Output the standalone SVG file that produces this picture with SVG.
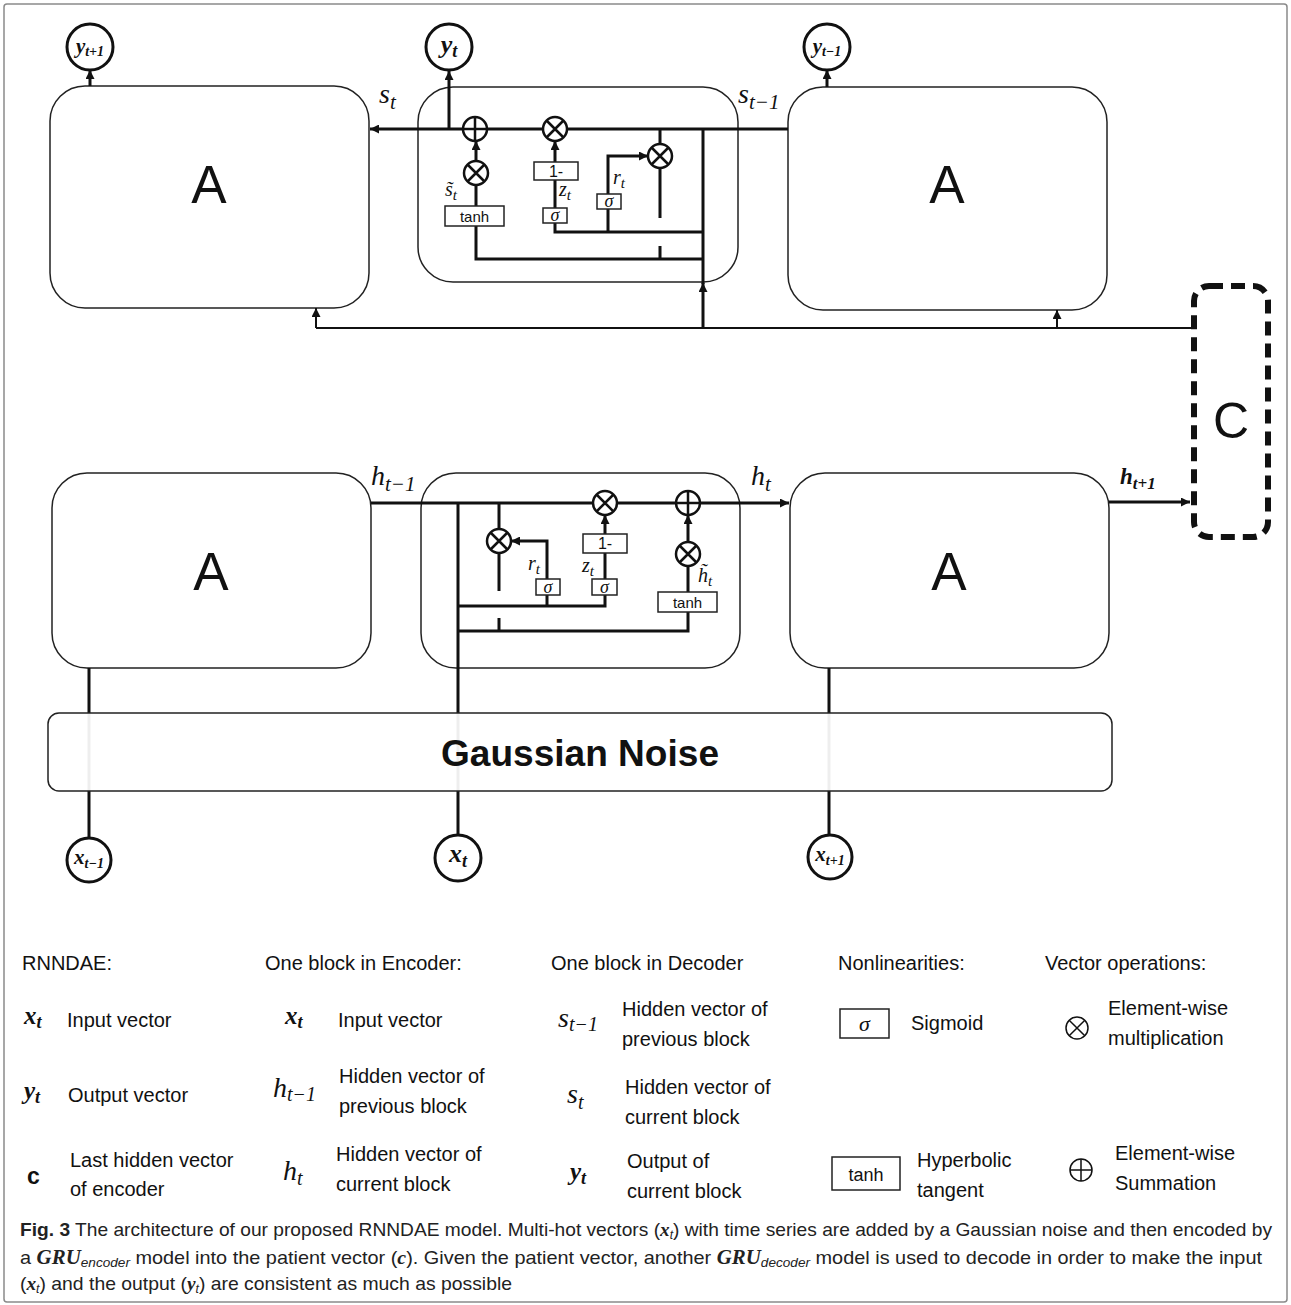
<svg xmlns="http://www.w3.org/2000/svg" xmlns:xlink="http://www.w3.org/1999/xlink" width="1291" height="1305" viewBox="0 0 1291 1305">
<style>
.frame{fill:#fff;stroke:#8a8a8a;stroke-width:1.5}
.box{fill:#fff;stroke:#222;stroke-width:1.5}
.ln{stroke:#111;stroke-width:3;fill:none}
.thin{stroke:#111;stroke-width:2;fill:none}
.op{fill:#fff;stroke:#111;stroke-width:2.5}
.gate{fill:#fff;stroke:#222;stroke-width:1.5}
.circ{fill:#fff;stroke:#111;stroke-width:3}
.big{font-family:"Liberation Sans",Arial,sans-serif;font-size:53px;fill:#111;text-anchor:middle}
.m{font-family:"Liberation Serif","Times New Roman",serif;font-style:italic;fill:#111}
.mb{font-family:"Liberation Serif","Times New Roman",serif;font-style:italic;font-weight:bold;fill:#111}
.s{font-family:"Liberation Sans",Arial,sans-serif;fill:#111}
.lg{font-family:"Liberation Sans",Arial,sans-serif;font-size:20px;fill:#111}
.cap{font-family:"Liberation Sans",Arial,sans-serif;font-size:19px;fill:#222}
</style>
<defs>
<marker id="ah" viewBox="0 0 10 10" refX="10" refY="5" markerWidth="9" markerHeight="9" markerUnits="userSpaceOnUse" orient="auto"><path d="M0,0L10,5L0,10z" fill="#111"/></marker>
<g id="mul"><circle r="12" class="op"/><path d="M-8.5,-8.5L8.5,8.5M8.5,-8.5L-8.5,8.5" stroke="#111" stroke-width="2.5"/></g>
<g id="add"><circle r="12" class="op"/><path d="M-12,0H12M0,-12V12" stroke="#111" stroke-width="2.5"/></g>
</defs>
<rect class="frame" x="4" y="4" width="1283" height="1298" rx="3"/>

<!-- top row boxes -->
<g id="dec-left"><rect class="box" x="50" y="86" width="319" height="222" rx="35"/><text class="big" x="209" y="203">A</text></g>
<g id="dec-mid"><rect class="box" x="418" y="87" width="320" height="195" rx="35"/></g>
<g id="dec-right"><rect class="box" x="788" y="87" width="319" height="223" rx="35"/><text class="big" x="947" y="203">A</text></g>

<!-- bottom row boxes -->
<g id="enc-left"><rect class="box" x="52" y="473" width="319" height="195" rx="35"/><text class="big" x="211" y="590">A</text></g>
<g id="enc-mid"><rect class="box" x="421" y="473" width="319" height="195" rx="35"/></g>
<g id="enc-right"><rect class="box" x="790" y="473" width="319" height="195" rx="35"/><text class="big" x="949" y="590">A</text></g>

<!-- connectors -->
<g id="connectors">
<path class="ln" d="M788,129H370" marker-end="url(#ah)"/>
<path class="ln" d="M449,129V71" marker-end="url(#ah)"/>
<path class="ln" d="M660,129V144M660,168V218M660,246V260"/>
<path class="ln" d="M703,129V284"/>
<path class="ln" d="M703,328V283" marker-end="url(#ah)"/>
<path class="ln" d="M476,161V141" marker-end="url(#ah)"/>
<path class="ln" d="M476,206V185M476,226V259H703"/>
<path class="ln" d="M555,162V141" marker-end="url(#ah)"/>
<path class="ln" d="M555,180V208M555,223V232H703"/>
<path class="ln" d="M608,232V209M608,194V156H648" marker-end="url(#ah)"/>
<path class="ln" d="M90,86V70" marker-end="url(#ah)"/>
<path class="ln" d="M827,87V70" marker-end="url(#ah)"/>
<path class="thin" d="M316,328H1192"/>
<path class="thin" d="M316,328V308" marker-end="url(#ah)"/>
<path class="thin" d="M1057,328V310" marker-end="url(#ah)"/>
<path class="ln" d="M371,503H789" marker-end="url(#ah)"/>
<path class="ln" d="M458,503V836"/>
<path class="ln" d="M499,503V529M499,553V591M499,618V632"/>
<path class="ln" d="M458,606H605V595M547,606V595"/>
<path class="ln" d="M547,579V541H511" marker-end="url(#ah)"/>
<path class="ln" d="M605,579V553"/>
<path class="ln" d="M605,534V515" marker-end="url(#ah)"/>
<path class="ln" d="M458,631H688V612M688,592V566"/>
<path class="ln" d="M688,542V515" marker-end="url(#ah)"/>
<path class="ln" d="M1109,502H1190" marker-end="url(#ah)"/>
<path class="ln" d="M89,668V838M829,668V835"/>
</g>

<g id="dec-ops">
<use xlink:href="#add" x="475" y="129"/>
<use xlink:href="#mul" x="555" y="129"/>
<use xlink:href="#mul" x="660" y="156"/>
<use xlink:href="#mul" x="476" y="173"/>
<rect class="gate" x="445" y="206" width="59" height="20"/><text class="s" x="474.5" y="221.5" font-size="15" text-anchor="middle">tanh</text>
<rect class="gate" x="534" y="162" width="44" height="18"/><text class="s" x="556" y="177" font-size="16" text-anchor="middle">1-</text>
<rect class="gate" x="543" y="208" width="24" height="15"/><text class="m" x="555" y="221" font-size="18" text-anchor="middle">σ</text>
<rect class="gate" x="597" y="194" width="24" height="15"/><text class="m" x="609" y="207" font-size="18" text-anchor="middle">σ</text>
<text class="m" x="445" y="196" font-size="20">s̃<tspan font-size="15" dy="4">t</tspan></text>
<text class="m" x="559" y="196" font-size="20">z<tspan font-size="15" dy="4">t</tspan></text>
<text class="m" x="613" y="184" font-size="20">r<tspan font-size="15" dy="4">t</tspan></text>
</g>

<g id="enc-ops">
<use xlink:href="#mul" x="499" y="541"/>
<use xlink:href="#mul" x="605" y="503"/>
<use xlink:href="#add" x="688" y="503"/>
<use xlink:href="#mul" x="688" y="554"/>
<rect class="gate" x="536" y="579" width="24" height="16"/><text class="m" x="548" y="593" font-size="18" text-anchor="middle">σ</text>
<rect class="gate" x="592" y="579" width="25" height="16"/><text class="m" x="604.5" y="593" font-size="18" text-anchor="middle">σ</text>
<rect class="gate" x="583" y="534" width="44" height="19"/><text class="s" x="605" y="549" font-size="16" text-anchor="middle">1-</text>
<rect class="gate" x="658" y="592" width="59" height="20"/><text class="s" x="687.5" y="607.5" font-size="15" text-anchor="middle">tanh</text>
<text class="m" x="528" y="570" font-size="20">r<tspan font-size="15" dy="4">t</tspan></text>
<text class="m" x="582" y="572" font-size="20">z<tspan font-size="15" dy="4">t</tspan></text>
<text class="m" x="698" y="582" font-size="20">h̃<tspan font-size="15" dy="4">t</tspan></text>
</g>

<g id="context">
<rect x="1194" y="286" width="74" height="251" rx="15" fill="none" stroke="#111" stroke-width="6" stroke-dasharray="14 8"/>
<text class="s" x="1231" y="438" font-size="50" text-anchor="middle">C</text>
</g>

<g id="noise">
<rect x="48" y="713" width="1064" height="78" rx="11" fill="#fff" fill-opacity="0.93" stroke="#222" stroke-width="1.5"/>
<text class="s" x="580" y="766" font-size="37" font-weight="bold" text-anchor="middle" textLength="278" lengthAdjust="spacingAndGlyphs">Gaussian Noise</text>
</g>

<g id="y-next"><circle class="circ" cx="90" cy="47" r="23"/><text class="mb" x="90" y="53" font-size="21" text-anchor="middle">y<tspan font-size="14" dy="3">t+1</tspan></text></g>
<g id="y-cur"><circle class="circ" cx="449" cy="47" r="23"/><text class="mb" x="449" y="53" font-size="26" text-anchor="middle">y<tspan font-size="18" dy="4">t</tspan></text></g>
<g id="y-prev"><circle class="circ" cx="827" cy="47" r="23"/><text class="mb" x="827" y="53" font-size="21" text-anchor="middle">y<tspan font-size="14" dy="3">t−1</tspan></text></g>

<g id="x-prev"><circle class="circ" cx="89" cy="860" r="22"/><text class="mb" x="89" y="864" font-size="21" text-anchor="middle">x<tspan font-size="14" dy="4">t−1</tspan></text></g>
<g id="x-cur"><circle class="circ" cx="458" cy="858" r="23"/><text class="mb" x="458" y="862" font-size="26" text-anchor="middle">x<tspan font-size="18" dy="5">t</tspan></text></g>
<g id="x-next"><circle class="circ" cx="830" cy="857" r="22"/><text class="mb" x="830" y="861" font-size="21" text-anchor="middle">x<tspan font-size="14" dy="4">t+1</tspan></text></g>

<g id="labels">
<text class="m" x="379" y="103" font-size="28">s<tspan font-size="21" dy="6">t</tspan></text>
<text class="m" x="738" y="103" font-size="28">s<tspan font-size="21" dy="6">t−1</tspan></text>
<text class="m" x="371" y="485" font-size="28">h<tspan font-size="21" dy="6">t−1</tspan></text>
<text class="m" x="751" y="485" font-size="28">h<tspan font-size="21" dy="6">t</tspan></text>
<text class="mb" x="1120" y="484" font-size="23">h<tspan font-size="17" dy="5">t+1</tspan></text>
</g>

<g id="legend">
<text class="lg" x="22" y="970">RNNDAE:</text>
<text class="lg" x="265" y="970">One block in Encoder:</text>
<text class="lg" x="551" y="970">One block in Decoder</text>
<text class="lg" x="838" y="970">Nonlinearities:</text>
<text class="lg" x="1045" y="970">Vector operations:</text>

<text class="mb" x="24" y="1024" font-size="25">x<tspan font-size="18" dy="4">t</tspan></text>
<text class="lg" x="67" y="1027">Input vector</text>
<text class="mb" x="24" y="1099" font-size="25">y<tspan font-size="18" dy="4">t</tspan></text>
<text class="lg" x="68" y="1102">Output vector</text>
<text class="s" x="27" y="1184" font-size="23" font-weight="bold">c</text>
<text class="lg" x="70" y="1167">Last hidden vector</text>
<text class="lg" x="70" y="1196">of encoder</text>

<text class="mb" x="285" y="1024" font-size="25">x<tspan font-size="18" dy="4">t</tspan></text>
<text class="lg" x="338" y="1027">Input vector</text>
<text class="m" x="273" y="1097" font-size="28">h<tspan font-size="20" dy="4">t−1</tspan></text>
<text class="lg" x="339" y="1083">Hidden vector of</text>
<text class="lg" x="339" y="1113">previous block</text>
<text class="m" x="283" y="1180" font-size="28">h<tspan font-size="20" dy="5">t</tspan></text>
<text class="lg" x="336" y="1161">Hidden vector of</text>
<text class="lg" x="336" y="1191">current block</text>

<text class="m" x="558" y="1027" font-size="28">s<tspan font-size="20" dy="4">t−1</tspan></text>
<text class="lg" x="622" y="1016">Hidden vector of</text>
<text class="lg" x="622" y="1046">previous block</text>
<text class="m" x="567" y="1103" font-size="28">s<tspan font-size="20" dy="6">t</tspan></text>
<text class="lg" x="625" y="1094">Hidden vector of</text>
<text class="lg" x="625" y="1124">current block</text>
<text class="mb" x="570" y="1180" font-size="25">y<tspan font-size="18" dy="4">t</tspan></text>
<text class="lg" x="627" y="1168">Output of</text>
<text class="lg" x="627" y="1198">current block</text>

<rect class="gate" x="840" y="1009" width="49" height="29"/>
<text class="m" x="864.5" y="1031" font-size="22" text-anchor="middle">σ</text>
<text class="lg" x="911" y="1030">Sigmoid</text>
<rect class="gate" x="832" y="1157" width="68" height="33"/>
<text class="s" x="866" y="1181" font-size="18" text-anchor="middle">tanh</text>
<text class="lg" x="917" y="1167">Hyperbolic</text>
<text class="lg" x="917" y="1197">tangent</text>

<g transform="translate(1077,1028)"><circle r="11" fill="none" stroke="#111" stroke-width="1.5"/><path d="M-7.8,-7.8L7.8,7.8M7.8,-7.8L-7.8,7.8" stroke="#111" stroke-width="1.5"/></g>
<text class="lg" x="1108" y="1015">Element-wise</text>
<text class="lg" x="1108" y="1045">multiplication</text>
<g transform="translate(1081,1170)"><circle r="11" fill="none" stroke="#111" stroke-width="1.5"/><path d="M-11,0H11M0,-11V11" stroke="#111" stroke-width="1.5"/></g>
<text class="lg" x="1115" y="1160">Element-wise</text>
<text class="lg" x="1115" y="1190">Summation</text>
</g>

<g id="caption">
<text class="cap" x="20" y="1236" textLength="1252" lengthAdjust="spacingAndGlyphs"><tspan font-weight="bold">Fig. 3</tspan> The architecture of our proposed RNNDAE model. Multi-hot vectors (<tspan font-family="Liberation Serif,serif" font-weight="bold" font-style="italic">x</tspan><tspan font-size="12" font-style="italic" dy="3">t</tspan><tspan dy="-3">) with time series are added by a Gaussian noise and then encoded by</tspan></text>
<text class="cap" x="20" y="1264" textLength="1242" lengthAdjust="spacingAndGlyphs">a <tspan font-family="Liberation Serif,serif" font-weight="bold" font-style="italic" font-size="20">GRU</tspan><tspan font-size="13" font-style="italic" dy="3">encoder</tspan><tspan dy="-3"> model into the patient vector (</tspan><tspan font-family="Liberation Serif,serif" font-weight="bold" font-style="italic">c</tspan>). Given the patient vector, another <tspan font-family="Liberation Serif,serif" font-weight="bold" font-style="italic" font-size="20">GRU</tspan><tspan font-size="13" font-style="italic" dy="3">decoder</tspan><tspan dy="-3"> model is used to decode in order to make the input</tspan></text>
<text class="cap" x="20" y="1290" textLength="492" lengthAdjust="spacingAndGlyphs">(<tspan font-family="Liberation Serif,serif" font-weight="bold" font-style="italic">x</tspan><tspan font-size="12" font-style="italic" dy="3">t</tspan><tspan dy="-3">) and the output (</tspan><tspan font-family="Liberation Serif,serif" font-weight="bold" font-style="italic">y</tspan><tspan font-size="12" font-style="italic" dy="3">t</tspan><tspan dy="-3">) are consistent as much as possible</tspan></text>
</g>
</svg>
